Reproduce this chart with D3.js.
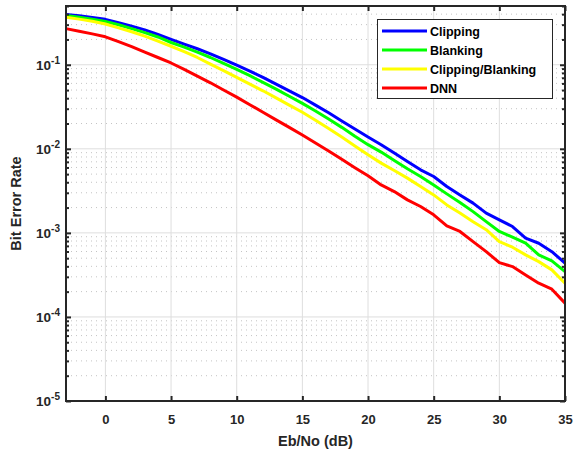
<!DOCTYPE html>
<meta charset="utf-8">
<script src="https://d3js.org/d3.v7.min.js"></script>
<style>
	body{
		margin:0;
		background:#fff;
		font-family:'Liberation Sans', Arial, sans-serif;
	}
</style>
<div id="chart"></div>
<script>

	// Eb/No in dB
	var ebno = d3.range(-3, 36)

	var clipping = [0.397,0.382,0.366,0.347,0.316,0.288,0.260,0.229,0.200,0.176,0.155,0.135,0.116,0.0989,
		0.0841,0.0708,0.0589,0.0490,0.0407,0.0331,0.0269,0.0214,0.0172,0.0138,0.0112,0.00889,0.00706,
		0.00562,0.00468,0.00356,0.00283,0.00226,0.00172,0.00143,0.00119,0.000865,0.000753,0.000598,0.000436]

	var blanking = [0.385,0.367,0.348,0.327,0.299,0.269,0.241,0.214,0.184,0.162,0.141,0.122,0.104,0.0881,
		0.0741,0.0617,0.0513,0.0422,0.0347,0.0282,0.0226,0.0180,0.0141,0.0112,0.00914,0.00726,0.00578,
		0.00468,0.00372,0.00291,0.00230,0.00179,0.00136,0.00104,0.000889,0.000753,0.000547,0.000464,0.000346]

	var clipBlank = [0.367,0.349,0.330,0.305,0.275,0.247,0.219,0.191,0.166,0.143,0.122,0.102,0.0851,0.0708,
		0.0589,0.0490,0.0403,0.0331,0.0272,0.0219,0.0174,0.0138,0.0108,0.00849,0.00676,0.00552,0.00448,
		0.00356,0.00283,0.00215,0.00172,0.00136,0.00109,0.000787,0.000676,0.000547,0.000455,0.000363,0.000252]

	var dnn = [0.269,0.251,0.233,0.215,0.188,0.164,0.141,0.122,0.105,0.0881,0.0733,0.0610,0.0501,0.0412,
		0.0335,0.0272,0.0221,0.0180,0.0146,0.0117,0.00944,0.00750,0.00596,0.00478,0.00372,0.00310,0.00247,
		0.00206,0.00164,0.00121,0.00104,0.000787,0.000598,0.000443,0.000397,0.000316,0.000252,0.000214,0.000146]

	var seriesNames = ["Clipping","Blanking","Clipping/Blanking","DNN"]
	var seriesColors = ["#0000ff","#00ff00","#ffff00","#ff0000"]
	var seriesData = [clipping, blanking, clipBlank, dnn]

	var xTicks = [0,5,10,15,20,25,30,35]
	var yExponents = [-1,-2,-3,-4,-5]

	var W = 575
	var H = 455
	var pL = 66, pR = 565, pT = 6, pB = 401
	var axisColor = "#262626"

	var svg = d3.select("#chart").append("svg")
		.attr("width",W)
		.attr("height",H)

	var x = d3.scaleLinear().domain([-3,35]).range([pL,pR])
	var y = d3.scaleLog().domain([1e-5,0.5]).range([pB,pT])

	// grid
	var minorVals = []
	for(var e=-5;e<0;e++){
		for(var m=2;m<10;m++){
			var v = m*Math.pow(10,e)
			if(v<=0.5) minorVals.push(v)
		}
	}
	var grid = svg.append("g")
	grid.selectAll(".minor").data(minorVals).join("line")
		.attr("x1",pL).attr("x2",pR)
		.attr("y1",d=>y(d)).attr("y2",d=>y(d))
		.attr("stroke","#c4c4c4")
		.attr("stroke-width",1)
		.attr("stroke-dasharray","1,4")
	grid.selectAll(".majorY").data(yExponents).join("line")
		.attr("x1",pL).attr("x2",pR)
		.attr("y1",d=>y(Math.pow(10,d))).attr("y2",d=>y(Math.pow(10,d)))
		.attr("stroke","#dedede")
	grid.selectAll(".majorX").data(xTicks).join("line")
		.attr("x1",d=>x(d)).attr("x2",d=>x(d))
		.attr("y1",pT).attr("y2",pB)
		.attr("stroke","#dedede")

	// series
	var line = d3.line()
		.x((d,i)=>x(ebno[i]))
		.y(d=>y(d))

	svg.append("g").selectAll("path").data(seriesData).join("path")
		.attr("d",line)
		.attr("fill","none")
		.attr("stroke",(d,i)=>seriesColors[i])
		.attr("stroke-width",3)
		.attr("stroke-linejoin","round")

	// axes (ticks inward on all sides)
	var bottomAxis = d3.axisBottom(x).tickValues(xTicks).tickSizeInner(-5).tickSizeOuter(0).tickPadding(14)
	var topAxis = d3.axisTop(x).tickValues(xTicks).tickSizeInner(-5).tickSizeOuter(0).tickFormat("")

	var gB = svg.append("g").attr("transform","translate(0,"+pB+")").call(bottomAxis)
	var gT = svg.append("g").attr("transform","translate(0,"+pT+")").call(topAxis)

	var yMajor = yExponents.map(d=>Math.pow(10,d))
	var gL = svg.append("g").attr("transform","translate("+pL+",0)")
		.call(d3.axisLeft(y).tickValues(yMajor).tickSizeInner(-5).tickSizeOuter(0).tickFormat(""))
	var gLm = svg.append("g").attr("transform","translate("+pL+",0)")
		.call(d3.axisLeft(y).tickValues(minorVals).tickSizeInner(-3).tickSizeOuter(0).tickFormat(""))
	var gR = svg.append("g").attr("transform","translate("+pR+",0)")
		.call(d3.axisRight(y).tickValues(yMajor).tickSizeInner(-5).tickSizeOuter(0).tickFormat(""))
	var gRm = svg.append("g").attr("transform","translate("+pR+",0)")
		.call(d3.axisRight(y).tickValues(minorVals).tickSizeInner(-3).tickSizeOuter(0).tickFormat(""))

	;[gB,gT,gL,gLm,gR,gRm].forEach(function(g){
		g.select(".domain").remove()
		g.selectAll("line").attr("stroke",axisColor).attr("stroke-width",2)
	})
	gB.selectAll("text")
		.attr("fill",axisColor)
		.style("font-size","13px")
		.style("font-weight","bold")
		.style("font-family","'Liberation Sans', Arial, sans-serif")

	// y tick labels 10^n
	var yLab = svg.append("g")
	yExponents.forEach(function(ex){
		var t = yLab.append("text")
			.attr("x",pL-6)
			.attr("y",y(Math.pow(10,ex))+5)
			.attr("text-anchor","end")
			.attr("fill",axisColor)
			.style("font-size","13.5px")
			.style("font-weight","bold")
		t.append("tspan").text("10")
		t.append("tspan").text(ex).attr("dy",-6).style("font-size","10px")
	})

	// box
	svg.append("rect")
		.attr("x",pL).attr("y",pT)
		.attr("width",pR-pL).attr("height",pB-pT)
		.attr("fill","none")
		.attr("stroke",axisColor)
		.attr("stroke-width",2)

	// axis titles
	svg.append("text").text("Eb/No (dB)")
		.attr("x",(pL+pR)/2).attr("y",446)
		.attr("text-anchor","middle")
		.attr("fill",axisColor)
		.style("font-size","14.5px").style("font-weight","bold")

	svg.append("text").text("Bit Error Rate")
		.attr("transform","translate(21,"+((pT+pB)/2)+") rotate(-90)")
		.attr("text-anchor","middle")
		.attr("fill",axisColor)
		.style("font-size","14.5px").style("font-weight","bold")

	// legend
	var lg = svg.append("g")
	lg.append("rect")
		.attr("x",377.5).attr("y",19.5)
		.attr("width",175).attr("height",79)
		.attr("fill","#fff")
		.attr("stroke",axisColor)
		.attr("stroke-width",1)
	seriesNames.forEach(function(name,i){
		var ly = 31 + i*19
		lg.append("line")
			.attr("x1",382).attr("x2",427)
			.attr("y1",ly).attr("y2",ly)
			.attr("stroke",seriesColors[i])
			.attr("stroke-width",3)
		lg.append("text").text(name)
			.attr("x",430).attr("y",ly+4.5)
			.attr("fill","#000")
			.style("font-size","12.5px").style("font-weight","bold")
	})

</script>
